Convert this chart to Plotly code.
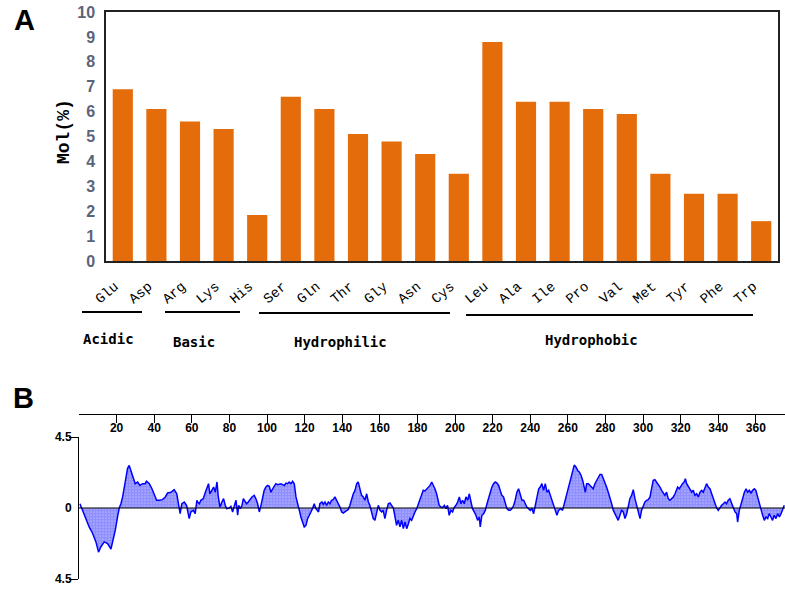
import plotly.graph_objects as go

W, H = 785, 592
def px(x):
    return x / W
def py(y):
    return 1 - y / H

# ---------------- Panel A data ----------------
amino_acids = ["Glu", "Asp", "Arg", "Lys", "His", "Ser", "Gln", "Thr", "Gly", "Asn",
               "Cys", "Leu", "Ala", "Ile", "Pro", "Val", "Met", "Tyr", "Phe", "Trp"]
mol_percent = [6.9, 6.1, 5.6, 5.3, 1.85, 6.6, 6.1, 5.1, 4.8, 4.3,
               3.5, 8.8, 6.4, 6.4, 6.1, 5.9, 3.5, 2.7, 2.7, 1.6]
group_names = ["Acidic", "Basic", "Hydrophilic", "Hydrophobic"]
mol_ticks = list(range(0, 11))

# ---------------- Panel B data ----------------
residue_pos = [
    0.5, 1.9, 3.7, 5.4, 7.2, 9.0, 10.4, 11.6, 13.4, 15.2, 17.0, 18.2, 19.3, 20.5, 21.4, 22.3,
    23.2, 24.6, 25.8, 26.7, 27.6, 28.5, 29.9, 31.2, 32.4, 33.8, 35.2, 35.9, 37.4, 38.8, 40.0,
    41.3, 42.7, 44.4, 45.9, 47.1, 48.9, 50.6, 52.0, 53.0, 53.8, 54.7, 56.0, 57.2, 58.6, 59.5,
    60.8, 61.8, 62.7, 63.1, 64.0, 64.8, 66.1, 67.2, 68.0, 68.9, 69.6, 70.7, 71.6, 72.5, 73.4,
    74.1, 75.0, 76.0, 76.9, 77.8, 78.5, 79.9, 80.8, 81.7, 82.6, 83.5, 84.4, 84.9, 85.8, 86.7,
    87.4, 88.3, 89.1, 90.0, 90.9, 92.0, 93.2, 94.1, 95.0, 95.9, 96.8, 97.6, 98.5, 99.4, 100.3,
    101.2, 102.1, 103.0, 103.9, 104.7, 105.6, 106.5, 107.4, 108.3, 109.2, 110.1, 110.9, 111.8,
    112.7, 113.6, 114.5, 115.4, 116.3, 117.2, 118.0, 118.9, 119.8, 120.7, 121.6, 122.5, 123.4,
    124.2, 125.1, 126.0, 127.4, 128.1, 129.2, 129.9, 130.8, 131.7, 132.6, 133.5, 134.3, 135.2,
    136.1, 137.0, 137.9, 138.8, 139.7, 140.6, 141.4, 142.3, 143.2, 144.1, 145.0, 145.9, 146.8,
    147.7, 148.5, 149.4, 150.3, 151.2, 152.1, 153.0, 153.9, 154.7, 155.6, 156.5, 157.4, 158.3,
    159.2, 160.1, 161.0, 161.8, 162.7, 163.6, 164.5, 165.4, 166.3, 167.2, 168.1, 168.9, 169.8,
    170.7, 171.6, 172.5, 173.4, 174.3, 175.2, 176.0, 176.9, 177.8, 178.7, 179.6, 180.5, 181.4,
    182.3, 183.1, 184.0, 184.9, 185.8, 186.7, 187.6, 188.5, 189.3, 190.2, 191.1, 191.6, 192.5,
    193.4, 194.3, 195.2, 196.0, 196.9, 197.8, 198.7, 199.6, 200.5, 201.4, 202.3, 203.1, 204.0,
    204.9, 205.8, 206.7, 207.6, 208.5, 209.3, 210.2, 211.1, 212.0, 212.9, 213.4, 214.3, 215.2,
    216.1, 217.0, 217.9, 218.7, 219.6, 220.5, 221.4, 222.3, 223.2, 224.0, 224.9, 225.8, 226.7,
    227.6, 228.5, 229.4, 230.3, 231.2, 232.0, 232.9, 233.8, 234.7, 235.6, 236.5, 237.4, 238.2,
    239.1, 240.0, 240.9, 241.8, 242.7, 243.6, 244.5, 245.3, 246.2, 247.1, 248.0, 248.9, 249.8,
    250.7, 251.5, 252.4, 253.3, 254.2, 255.1, 256.3, 257.2, 258.1, 259.0, 259.9, 260.8, 261.6,
    262.5, 263.4, 264.3, 265.2, 266.1, 267.0, 267.9, 268.7, 269.3, 270.0, 270.9, 271.8, 272.6,
    273.5, 274.4, 275.3, 276.2, 277.1, 278.0, 278.9, 279.8, 280.6, 281.5, 282.4, 283.3, 284.2,
    285.1, 286.0, 286.8, 287.7, 288.6, 289.5, 290.4, 291.3, 292.2, 293.0, 293.9, 294.8, 295.7,
    296.6, 297.5, 298.4, 299.2, 300.1, 301.0, 301.9, 302.8, 303.7, 304.6, 305.4, 306.3, 307.2,
    308.1, 309.0, 309.9, 310.8, 311.6, 312.5, 313.4, 314.3, 315.2, 316.1, 317.0, 317.9, 318.4,
    319.3, 320.2, 321.0, 321.9, 322.5, 323.2, 324.1, 325.0, 325.9, 326.7, 327.6, 328.5, 329.4,
    330.3, 331.2, 332.0, 332.9, 333.8, 334.7, 335.6, 336.5, 337.4, 338.2, 339.1, 340.0, 340.9,
    341.8, 342.7, 343.6, 344.4, 345.3, 346.2, 347.1, 348.0, 348.9, 349.8, 350.3, 351.2, 352.1,
    353.0, 353.9, 354.8, 355.6, 356.5, 357.4, 358.3, 359.2, 360.0, 360.9, 361.8, 362.7, 363.6,
    364.5, 365.4, 366.3, 367.1, 368.0, 368.9, 369.8, 370.7, 371.6, 372.5, 373.4, 374.2, 375.1,
]
hydropathy = [
    0.27, -0.15, -0.8, -1.2, -1.6, -2.15, -2.8, -2.47, -2.15, -2.26, -2.6, -2.05, -1.4, -0.57, 0.0, 0.27,
    0.7, 1.65, 2.5, 2.7, 2.38, 1.96, 1.54, 1.65, 1.43, 1.54, 1.54, 1.7, 1.54, 1.22, 0.9,
    0.49, 0.49, 0.53, 0.7, 0.95, 1.0, 1.16, 0.9, 0.17, -0.36, 0.27, 0.38, 0.17, -0.67, -0.25,
    -0.15, -0.36, 0.49, 0.38, 0.27, 0.49, 0.59, 1.0, 1.33, 1.54, 0.9, 1.12, 1.33, 1.0, 1.65,
    0.7, 0.06, 0.38, 0.59, 0.17, -0.04, 0.0, 0.1, -0.25, 0.17, 0.49, -0.46, 0.17, -0.04, 0.17,
    0.59, 0.38, 0.27, 0.38, 0.53, 0.7, 0.8, 0.59, 0.27, -0.25, 0.17, 0.7, 1.12, 1.33, 1.43,
    1.37, 1.0, 1.22, 1.43, 1.54, 1.48, 1.5, 1.54, 1.48, 1.43, 1.58, 1.54, 1.65,
    1.54, 1.69, 1.54, 0.7, 0.17, -0.15, -0.57, -0.89, -1.2, -1.1, -0.67, -0.46, -0.25,
    -0.04, 0.27, -0.04, -0.25, 0.27, 0.38, 0.23, 0.38, 0.17, 0.38, 0.27, 0.49, 0.53,
    0.7, 0.49, 0.27, 0.06, -0.25, -0.32, -0.25, -0.15, -0.1, 0.17, 0.59, 0.9, 1.12,
    1.54, 1.65, 1.22, 0.8, 0.7, 0.49, 0.9, 0.38, 0.17, -0.25, -0.67, -0.78, -0.36,
    0.17, -0.15, -0.25, -0.15, -0.67, -0.15, 0.27, 0.32, 0.17, 0.0, -0.57, -1.1, -0.78,
    -1.2, -0.78, -1.31, -0.89, -1.31, -1.0, -0.67, -0.78, -0.46, -0.25, -0.04, 0.27, 0.49,
    0.9, 1.12, 1.08, 1.22, 1.33, 1.43, 1.65, 1.43, 1.22, 0.9, 0.4, 0.17, 0.06,
    0.02, 0.17, -0.04, 0.17, -0.46, -0.15, -0.25, 0.04, 0.17, 0.38, 0.7, 0.27, 0.49,
    0.27, 0.7, 0.49, 0.9, 0.38, -0.04, -0.25, -0.46, -0.78, -0.57, -1.2, -0.46, -0.36,
    -0.15, 0.27, 0.7, 1.0, 1.33, 1.54, 1.65, 1.58, 1.43, 1.12, 0.8, 0.7, 0.27,
    -0.04, -0.15, -0.15, -0.04, 0.17, 0.49, 1.0, 1.22, 0.9, 0.49, 0.49, 0.27, 0.06,
    -0.04, -0.15, -0.04, -0.36, 0.17, 0.7, 1.22, 1.33, 1.54, 1.12, 1.54, 1.0, 1.12,
    0.8, 0.49, 0.17, -0.15, -0.46, -0.15, -0.04, -0.15, 0.27, 0.7, 1.12, 1.54, 2.07,
    2.38, 2.72, 2.6, 2.38, 2.28, 2.07, 1.75, 1.33, 1.0, 1.54, 1.54, 1.43, 1.33,
    1.22, 1.54, 1.75, 1.96, 2.13, 2.13, 1.86, 1.65, 1.33, 1.0, 0.7, 0.27, -0.15,
    -0.36, -0.57, -0.78, -0.46, -0.15, -0.25, -0.67, -0.36, 0.27, 0.59, 0.8, 1.16, 0.59,
    0.17, -0.25, -0.67, -0.15, 0.17, 0.38, 0.49, 0.53, 0.7, 1.22, 1.75, 1.79, 1.65,
    1.54, 1.33, 1.12, 0.9, 0.8, 1.0, 0.59, 0.49, 0.59, 0.7, 0.9, 1.12, 1.33,
    1.22, 1.43, 1.54, 1.65, 1.86, 1.54, 1.33, 1.12, 1.0, 1.12, 0.8, 0.9, 0.7,
    1.0, 1.12, 1.0, 1.22, 1.54, 1.33, 1.22, 0.9, 0.59, 0.27, 0.02, -0.15, 0.02,
    0.17, 0.27, 0.38, 0.27, 0.49, 0.59, 0.27, -0.04, -0.25, -0.36, -0.89, -0.15, 0.27,
    0.7, 1.0, 1.22, 1.0, 1.12, 0.95, 1.12, 1.22, 1.12, 0.7, 0.27, -0.15, -0.46,
    -0.78, -0.57, -0.67, -0.36, -0.57, -0.78, -0.46, -0.67, -0.36, -0.57, -0.36, -0.15, 0.17,
]
pos_ticks = list(range(0, 361, 20))
pos_ticktext = [""] + [str(v) for v in pos_ticks[1:]]
hyd_ticks = [-4.5, 0, 4.5]
hyd_ticktext = ["4.5", "0", "4.5"]

fig = go.Figure()

fig.add_trace(go.Bar(
    x=amino_acids, y=mol_percent, xaxis="x", yaxis="y",
    marker=dict(color="#E46C0A", line=dict(width=0)),
    showlegend=False,
))

fig.add_trace(go.Scatter(
    x=residue_pos, y=hydropathy, xaxis="x2", yaxis="y2",
    mode="lines", line=dict(color="#0000FF", width=1.5),
    fill="tozeroy",
    fillpattern=dict(shape=".", fgcolor="#2020ff", bgcolor="#ffffff", size=3, solidity=0.85),
    showlegend=False,
))

mono = "Liberation Mono, Courier New, monospace"
sans = "Liberation Sans, Arial, sans-serif"

fig.update_layout(
    width=W, height=H,
    margin=dict(l=0, r=0, t=0, b=0, autoexpand=False),
    paper_bgcolor="white", plot_bgcolor="white",
    bargap=0.40,
    xaxis=dict(
        domain=[px(106), px(778)], anchor="y", automargin=False,
        type="category", tickangle=-40,
        tickfont=dict(family=mono, size=14, color="#000000"),
        showline=True, linecolor="#222222", linewidth=1.5, mirror=True,
        ticks="", showgrid=False, zeroline=False,
        ticklabelstandoff=10, ticklabelshift=-8,
    ),
    yaxis=dict(
        domain=[py(261), py(12)], anchor="x", automargin=False,
        range=[0, 10], tickvals=mol_ticks,
        tickfont=dict(family=sans, size=16, color="#5B6379", weight="bold"),
        showline=True, linecolor="#222222", linewidth=1.5, mirror=True,
        ticks="", showgrid=False, zeroline=False,
        ticklabelstandoff=6, ticklabeloverflow="allow",
    ),
    xaxis2=dict(
        domain=[px(79), 1.0], anchor="free", position=py(414), side="top", automargin=False,
        range=[0, 375.5], tickvals=pos_ticks, ticktext=pos_ticktext,
        ticks="inside", ticklen=8, tickwidth=1, tickcolor="#000000",
        ticklabelposition="inside",
        tickfont=dict(family=sans, size=12, color="#000000", weight="bold"),
        showline=True, linecolor="#000000", linewidth=1,
        showgrid=False, zeroline=False,
    ),
    yaxis2=dict(
        domain=[py(579), py(437)], anchor="x2", automargin=False,
        range=[-4.5, 4.5], tickvals=hyd_ticks, ticktext=hyd_ticktext,
        ticks="", tickfont=dict(family=sans, size=12, color="#000000", weight="bold"),
        minor=dict(tickvals=[-4.5, 4.5], ticks="outside", ticklen=9, tickcolor="#000000", tickwidth=1),
        showline=True, linecolor="#000000", linewidth=1,
        showgrid=False, zeroline=False,
        ticklabelstandoff=4, ticklabeloverflow="allow",
    ),
)

# zero reference line over the hydropathy fill
fig.add_shape(type="line", xref="x2 domain", yref="y2", x0=0, x1=1, y0=0, y1=0,
              line=dict(color="#000000", width=1), layer="above")

# group brackets under panel A
group_lines = [(82, 142, 312), (165, 240, 312), (259, 450, 313), (466, 753, 315)]
group_label_pos = [(108, 339), (194, 342), (340, 342), (591, 340)]
for (x0, x1, yy), name, (tx, ty) in zip(group_lines, group_names, group_label_pos):
    fig.add_shape(type="line", xref="paper", yref="paper",
                  x0=px(x0), x1=px(x1), y0=py(yy), y1=py(yy),
                  line=dict(color="#000000", width=2))
    fig.add_annotation(text=name, xref="paper", yref="paper", x=px(tx), y=py(ty),
                       showarrow=False, xanchor="center", yanchor="middle",
                       font=dict(family="DejaVu Sans Mono, monospace", size=14, color="#000000", weight="bold"))

# y-axis title of panel A
fig.add_annotation(text="Mol(%)", xref="paper", yref="paper", x=px(64), y=py(132),
                   showarrow=False, textangle=-90, xanchor="center", yanchor="middle",
                   font=dict(family=mono, size=18, color="#000000", weight="bold"))

# panel letters
fig.add_annotation(text="A", xref="paper", yref="paper", x=px(24), y=py(20),
                   showarrow=False, xanchor="center", yanchor="middle",
                   font=dict(family=sans, size=29, color="#000000", weight="bold"))
fig.add_annotation(text="B", xref="paper", yref="paper", x=px(23), y=py(398),
                   showarrow=False, xanchor="center", yanchor="middle",
                   font=dict(family=sans, size=29, color="#000000", weight="bold"))

# remove the default page margin so the 785x592 figure fills the window exactly
fig.write_html("out.html", config={"displayModeBar": False},
               post_script="document.body.style.margin='0';")
